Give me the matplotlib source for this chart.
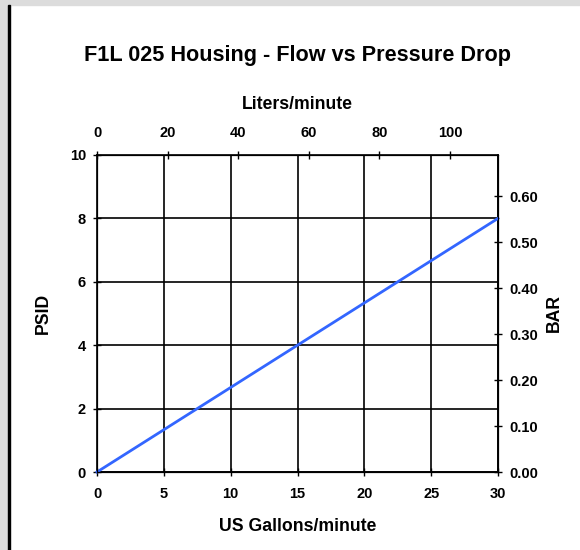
import matplotlib.pyplot as plt
from matplotlib.patches import Rectangle
from matplotlib.ticker import FormatStrFormatter

plt.rcParams['font.family'] = ['Liberation Sans', 'DejaVu Sans']
plt.rcParams['font.weight'] = 'bold'

# data: flow (US GPM) vs pressure drop (PSID)
flow_gpm = [0, 30]
psid = [0, 8]

gpm_ticks = [0, 5, 10, 15, 20, 25, 30]
psid_ticks = [0, 2, 4, 6, 8, 10]
lpm_ticks = [0, 20, 40, 60, 80, 100]
bar_ticks = [0.0, 0.1, 0.2, 0.3, 0.4, 0.5, 0.6]

GPM_TO_LPM = 3.78541
PSI_TO_BAR = 0.0689476

fig = plt.figure(figsize=(5.8, 5.5), dpi=100)

# page frame bits
fig.patches.append(Rectangle((0, 1 - 5 / 550), 1, 5 / 550, transform=fig.transFigure,
                             color='#dcdcdc', zorder=0))
fig.patches.append(Rectangle((0, 0), 8 / 580, 1, transform=fig.transFigure,
                             color='#dcdcdc', zorder=0))
fig.patches.append(Rectangle((8 / 580, 0), 2 / 580, 1 - 5 / 550, transform=fig.transFigure,
                             color='black', zorder=1))

ax = fig.add_axes([97 / 580, 1 - 472 / 550, 401 / 580, 317 / 550])
ax.plot(flow_gpm, psid, color='#3366ff', linewidth=2, zorder=5, clip_on=False)

ax.set_xlim(0, 30)
ax.set_ylim(0, 10)
ax.set_xticks(gpm_ticks)
ax.set_yticks(psid_ticks)
ax.grid(True, color='black', linewidth=1.2)
ax.tick_params(direction='inout', length=6, width=1, labelsize=10.5)
ax.tick_params(axis='x', pad=8)
ax.tick_params(axis='y', pad=5)
for s in ax.spines.values():
    s.set_linewidth(1.2)
ax.set_xlabel('US Gallons/minute', fontsize=12.7, fontweight='bold', labelpad=12)
ax.set_ylabel('PSID', fontsize=12.7, fontweight='bold', labelpad=13)

top = ax.twiny()
top.set_xlim(0, 30 * GPM_TO_LPM)
top.set_xticks(lpm_ticks)
top.tick_params(direction='inout', length=6, width=1, labelsize=10.5, pad=8)
top.set_xlabel('Liters/minute', fontsize=12.7, fontweight='bold', labelpad=12)

right = ax.twinx()
right.set_ylim(0, 10 * PSI_TO_BAR)
right.set_yticks(bar_ticks)
right.yaxis.set_major_formatter(FormatStrFormatter('%.2f'))
right.tick_params(direction='inout', length=6, width=1, labelsize=10.5, pad=5)
right.set_ylabel('BAR', fontsize=12.7, fontweight='bold', rotation=90, labelpad=6)

fig.text(0.5 * (84 + 511) / 580, 1 - 56 / 550, 'F1L 025 Housing - Flow vs Pressure Drop',
         ha='center', va='center', fontsize=15.6, fontweight='bold')

fig.savefig('out.png', dpi=100)
